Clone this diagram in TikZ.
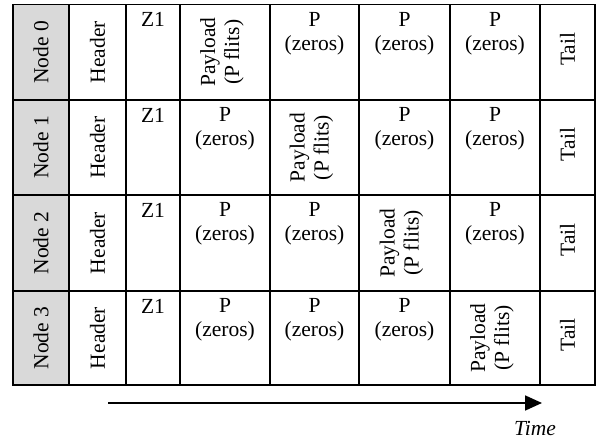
\documentclass[tikz,border=0pt]{standalone}
\usepackage{fontspec}
\setmainfont{Liberation Serif}
\usetikzlibrary{arrows.meta}
\definecolor{nodegrey}{HTML}{D9D9D9}
\tikzset{
  grid line/.style={line width=1.8pt, line cap=rect},
  celltext/.style={inner sep=0pt, align=center, font=\fontsize{21.5}{24}\selectfont},
  toptext/.style={celltext, anchor=north},
  rottext/.style={celltext, rotate=90, anchor=center},
  timearrow/.style={line width=1.8pt, -{Triangle[length=17pt,width=15pt]}},
}
\begin{document}
\begin{tikzpicture}[x=1pt,y=-1pt]
\useasboundingbox (0,0) rectangle (598,443);
% column boundaries
\def\xa{13}\def\xb{69}\def\xc{126}\def\xd{180}\def\xe{270}\def\xf{359}\def\xg{450}\def\xh{540}\def\xi{595}
% row boundaries
\def\ya{4.5}\def\yb{100}\def\yc{195}\def\yd{291}\def\ye{385}
\fill[nodegrey] (\xa,\ya) rectangle (\xb,\ye);
% grid
\foreach \x in {\xa,\xb,\xc,\xd,\xe,\xf,\xg,\xh,\xi}
  \draw[grid line] (\x,\ya) -- (\x,\ye);
\foreach \y in {\ya,\yb,\yc,\yd,\ye}
  \draw[grid line] (\xa,\y) -- (\xi,\y);
% rows
\foreach \r/\top/\bot in {0/\ya/\yb,1/\yb/\yc,2/\yc/\yd,3/\yd/\ye}{
  \node[rottext] (node\r) at ({(\xa+\xb)/2},{(\top+\bot)/2}) {Node \r};
  \node[rottext] (header\r) at ({(\xb+\xc)/2},{(\top+\bot)/2}) {Header};
  \node[toptext] (zone\r) at ({(\xc+\xd)/2},{\top+8}) {Z1};
  \node[rottext] (tail\r) at ({(\xh+\xi)/2},{(\top+\bot)/2-3}) {Tail};
}
% payload / zeros cells
\foreach \r/\top/\bot in {0/\ya/\yb,1/\yb/\yc,2/\yc/\yd,3/\yd/\ye}{
  \foreach \c/\l/\rr in {0/\xd/\xe,1/\xe/\xf,2/\xf/\xg,3/\xg/\xh}{
    \ifnum\r=\c
      \node[rottext] (cell\r\c) at ({(\l+\rr)/2-3},{(\top+\bot)/2}) {Payload\\(P flits)};
    \else
      \node[toptext] (cell\r\c) at ({(\l+\rr)/2},{\top+7.5}) {P\\(zeros)};
    \fi
  }
}
% time arrow
\coordinate (tstart) at (108,403);
\coordinate (tend) at (542,403);
\draw[timearrow] (tstart) -- (tend);
\node[celltext, font=\fontsize{21.5}{24}\selectfont\itshape] (time) at (535,428) {Time};
\end{tikzpicture}
\end{document}
